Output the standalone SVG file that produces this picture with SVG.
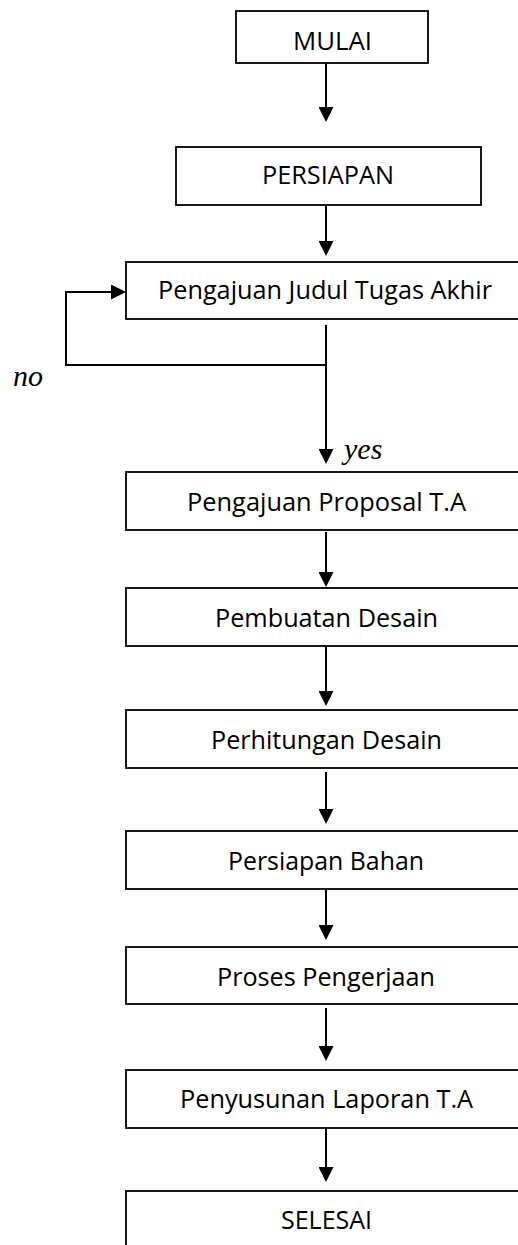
<svg xmlns="http://www.w3.org/2000/svg" width="518" height="1245" viewBox="0 0 518 1245">
<style>
.box{fill:#fff;stroke:#000;stroke-width:1.8}
.lbl{font-family:"Open Sans","Noto Sans",sans-serif;font-size:26px;fill:#000;text-anchor:middle}
.it{font-family:"Liberation Serif","Times New Roman",serif;font-style:italic;font-size:30px;fill:#000}
.con{fill:none;stroke:#000;stroke-width:2}
</style>
<defs>
<marker id="ah" viewBox="0 0 15 15" markerWidth="15" markerHeight="15" refX="5" refY="7.5" orient="auto" markerUnits="userSpaceOnUse">
<path d="M0,0 L15,7.5 L0,15 z" fill="#000"/>
</marker>
</defs>
<rect width="518" height="1245" fill="#fff"/>
<g id="connectors">
<path class="con" d="M326,63 V112" marker-end="url(#ah)"/>
<path class="con" d="M326,205 V246" marker-end="url(#ah)"/>
<path class="con" d="M326,325 V454" marker-end="url(#ah)"/>
<path class="con" d="M326,365 H66 V292 H116" marker-end="url(#ah)"/>
<path class="con" d="M326,532 V577" marker-end="url(#ah)"/>
<path class="con" d="M326,646 V696" marker-end="url(#ah)"/>
<path class="con" d="M326,772 V814" marker-end="url(#ah)"/>
<path class="con" d="M326,889 V930" marker-end="url(#ah)"/>
<path class="con" d="M326,1008 V1051" marker-end="url(#ah)"/>
<path class="con" d="M326,1128 V1172" marker-end="url(#ah)"/>
<text class="it" x="13" y="386">no</text>
<text class="it" x="344" y="459">yes</text>
</g>
<g id="mulai"><rect class="box" x="236" y="11" width="192" height="52"/><text class="lbl" x="332.5" y="50" textLength="79" lengthAdjust="spacingAndGlyphs">MULAI</text></g>
<g id="persiapan"><rect class="box" x="176" y="147" width="305" height="58"/><text class="lbl" x="328" y="184" textLength="132" lengthAdjust="spacingAndGlyphs">PERSIAPAN</text></g>
<g id="judul"><rect class="box" x="126" y="262" width="420" height="57"/><text class="lbl" x="325" y="299" textLength="334" lengthAdjust="spacingAndGlyphs">Pengajuan Judul Tugas Akhir</text></g>
<g id="proposal"><rect class="box" x="126" y="472" width="420" height="58"/><text class="lbl" x="326.5" y="511" textLength="279" lengthAdjust="spacingAndGlyphs">Pengajuan Proposal T.A</text></g>
<g id="pembuatan"><rect class="box" x="126" y="588" width="420" height="58"/><text class="lbl" x="326.5" y="627" textLength="223" lengthAdjust="spacingAndGlyphs">Pembuatan Desain</text></g>
<g id="perhitungan"><rect class="box" x="126" y="710" width="420" height="58"/><text class="lbl" x="326.5" y="749" textLength="231" lengthAdjust="spacingAndGlyphs">Perhitungan Desain</text></g>
<g id="bahan"><rect class="box" x="126" y="831" width="420" height="58"/><text class="lbl" x="326" y="870" textLength="196" lengthAdjust="spacingAndGlyphs">Persiapan Bahan</text></g>
<g id="proses"><rect class="box" x="126" y="947" width="420" height="57"/><text class="lbl" x="326" y="986" textLength="218" lengthAdjust="spacingAndGlyphs">Proses Pengerjaan</text></g>
<g id="laporan"><rect class="box" x="126" y="1070" width="420" height="58"/><text class="lbl" x="326.5" y="1108" textLength="293" lengthAdjust="spacingAndGlyphs">Penyusunan Laporan T.A</text></g>
<g id="selesai"><rect class="box" x="126" y="1191" width="420" height="80"/><text class="lbl" x="326.5" y="1229" textLength="91" lengthAdjust="spacingAndGlyphs">SELESAI</text></g>
</svg>
